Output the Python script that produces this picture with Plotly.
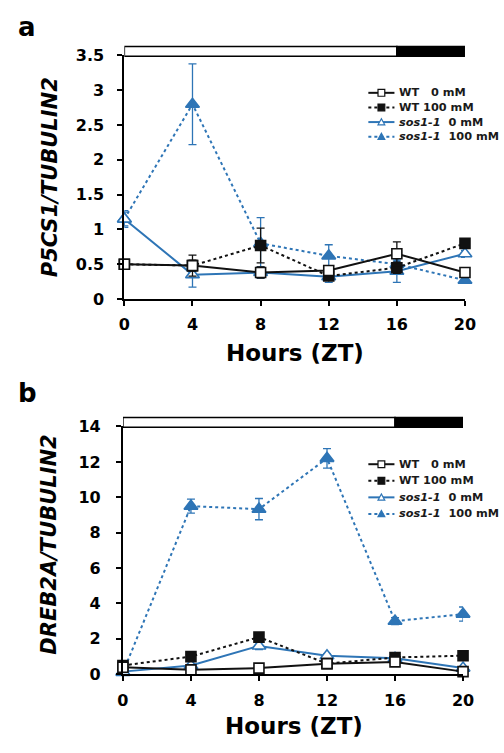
import plotly.graph_objects as go

# ---------------- data ----------------
hours = [0, 4, 8, 12, 16, 20]
x_ticks = [0, 4, 8, 12, 16, 20]

# panel a: P5CS1/TUBULIN2
a_wt0 = [0.50, 0.48, 0.38, 0.41, 0.65, 0.38]
a_wt0_err = [0.03, 0.15, 0.08, 0.06, 0.17, 0.04]
a_wt100 = [0.50, 0.48, 0.77, 0.33, 0.45, 0.80]
a_wt100_err = [0.03, 0.08, 0.25, 0.05, 0.08, 0.05]
a_sos0 = [1.15, 0.35, 0.38, 0.32, 0.40, 0.65]
a_sos0_err = [0.10, 0.18, 0.08, 0.08, 0.16, 0.05]
a_sos100 = [1.15, 2.80, 0.80, 0.62, 0.50, 0.27]
a_sos100_err = [0.12, 0.58, 0.37, 0.16, 0.08, 0.04]
a_yticks = [0, 0.5, 1, 1.5, 2, 2.5, 3, 3.5]

# panel b: DREB2A/TUBULIN2
b_wt0 = [0.40, 0.25, 0.35, 0.60, 0.70, 0.15]
b_wt0_err = [0.05, 0.05, 0.05, 0.10, 0.10, 0.05]
b_wt100 = [0.50, 1.00, 2.10, 0.60, 0.95, 1.05]
b_wt100_err = [0.10, 0.15, 0.20, 0.10, 0.15, 0.10]
b_sos0 = [0.15, 0.50, 1.60, 1.05, 0.90, 0.35]
b_sos0_err = [0.05, 0.10, 0.20, 0.10, 0.10, 0.05]
b_sos100 = [0.10, 9.50, 9.33, 12.20, 3.00, 3.40]
b_sos100_err = [0.10, 0.40, 0.60, 0.55, 0.20, 0.40]
b_yticks = [0, 2, 4, 6, 8, 10, 12, 14]

legend_labels = ["WT\u00a0\u00a0 0 mM", "WT 100 mM",
                 "<i>sos1-1</i>\u00a0 0 mM", "<i>sos1-1</i>\u00a0 100 mM"]
light_end = 16
dark_end = 20

BLUE = "#2E75B6"
BLACK = "#111111"
W, H = 504, 753
FONT = "DejaVu Sans"


def px(x):
    return x / W


def py(y):
    return 1 - y / H


fig = go.Figure()

styles = [
    dict(color=BLACK, dash="solid", symbol="square", fill="white", size=10),
    dict(color=BLACK, dash="dot", symbol="square", fill=BLACK, size=10),
    dict(color=BLUE, dash="solid", symbol="triangle-up", fill="white", size=12),
    dict(color=BLUE, dash="dot", symbol="triangle-up", fill=BLUE, size=12),
]


def add_series(ys, errs, st, xa, ya):
    fig.add_trace(go.Scatter(
        x=hours, y=ys, xaxis=xa, yaxis=ya, mode="lines+markers",
        line=dict(color=st["color"], width=2, dash=st["dash"]),
        marker=dict(symbol=st["symbol"], size=st["size"], color=st["fill"],
                    line=dict(color=st["color"], width=1.6)),
        error_y=dict(type="data", array=errs, visible=True, color=st["color"],
                     thickness=1.3, width=4),
        cliponaxis=False, showlegend=False))


a_series = [(a_sos100, a_sos100_err, styles[3]), (a_sos0, a_sos0_err, styles[2]),
            (a_wt100, a_wt100_err, styles[1]), (a_wt0, a_wt0_err, styles[0])]
b_series = [(b_sos100, b_sos100_err, styles[3]), (b_sos0, b_sos0_err, styles[2]),
            (b_wt100, b_wt100_err, styles[1]), (b_wt0, b_wt0_err, styles[0])]
for ys, es, st in a_series:
    add_series(ys, es, st, "x", "y")
for ys, es, st in b_series:
    add_series(ys, es, st, "x2", "y2")

axis_common = dict(showline=True, linecolor="black", linewidth=2, ticks="outside",
                   ticklen=5, tickwidth=2, tickcolor="black", showgrid=False,
                   zeroline=False, tickfont=dict(family=FONT, size=16, color="black",
                                                 weight="bold"))

A_X = (122.5, 475)
A_Y = (297.5, 47.7)
B_X = (121, 473)
B_Y = (682.5, 428.3)

fig.update_layout(
    width=W, height=H, margin=dict(l=0, r=0, t=0, b=0),
    paper_bgcolor="white", plot_bgcolor="white",
    font=dict(family=FONT, color="black"),
    xaxis=dict(domain=[px(A_X[0]), px(A_X[1])], range=[0, 20], tickvals=x_ticks,
               anchor="y", ticklabelstandoff=5, **axis_common),
    yaxis=dict(domain=[py(A_Y[0]), py(A_Y[1])], range=[0, 3.5], tickvals=a_yticks,
               anchor="x", ticklabelstandoff=10, **axis_common),
    xaxis2=dict(domain=[px(B_X[0]), px(B_X[1])], range=[0, 20], tickvals=x_ticks,
                anchor="y2", ticklabelstandoff=6, **axis_common),
    yaxis2=dict(domain=[py(B_Y[0]), py(B_Y[1])], range=[0, 14], tickvals=b_yticks,
                anchor="x2", ticklabelstandoff=12, **axis_common),
)

shapes = []
annotations = []


def note(text, x, y, size, angle=0, xanchor="center", color="black"):
    annotations.append(dict(text=text, x=px(x), y=py(y), xref="paper", yref="paper",
                            xanchor=xanchor, yanchor="middle", textangle=angle,
                            showarrow=False, font=dict(family=FONT, size=size, color=color)))


# light/dark bars above each panel
for xr, top, bottom in [("x", 38.5, 48.5), ("x2", 419, 429)]:
    shapes.append(dict(type="rect", xref=xr, yref="paper", x0=0, x1=light_end,
                       y0=py(bottom), y1=py(top), fillcolor="white",
                       line=dict(color="black", width=1.5)))
    shapes.append(dict(type="rect", xref=xr, yref="paper", x0=light_end, x1=dark_end,
                       y0=py(bottom), y1=py(top), fillcolor="black",
                       line=dict(color="black", width=1.5)))

# panel letters
note("<b>a</b>", 22, 18, 26)
note("<b>b</b>", 22, 394, 26)

# axis titles
note("<b><i>P5CS1/TUBULIN2</i></b>", 45, 172, 21, angle=-90)
note("<b><i>DREB2A/TUBULIN2</i></b>", 45, 549, 21, angle=-90)
note("<b>Hours (ZT)</b>", 299, 353, 23)
note("<b>Hours (ZT)</b>", 298, 736, 23)


# manual legends
def legend(x0, x1, xt, rows, fs, msize):
    for st, lab, yr in zip(styles, legend_labels, rows):
        dash = "solid" if st["dash"] == "solid" else "dot"
        shapes.append(dict(type="line", xref="paper", yref="paper", x0=px(x0), x1=px(x1),
                           y0=py(yr), y1=py(yr),
                           line=dict(color=st["color"], width=2, dash=dash)))
        xc = (x0 + x1) / 2
        s = msize / 2
        if st["symbol"] == "square":
            shapes.append(dict(type="rect", xref="paper", yref="paper",
                               x0=px(xc - s), x1=px(xc + s), y0=py(yr + s), y1=py(yr - s),
                               fillcolor=st["fill"], line=dict(color=st["color"], width=1.2)))
        else:
            path = "M {} {} L {} {} L {} {} Z".format(
                px(xc - s), py(yr + s * 0.8), px(xc + s), py(yr + s * 0.8),
                px(xc), py(yr - s))
            shapes.append(dict(type="path", xref="paper", yref="paper", path=path,
                               fillcolor=st["fill"], line=dict(color=st["color"], width=1.2)))
        note("<b>" + lab + "</b>", xt, yr, fs, xanchor="left", color="#1a1a1a")


legend(375, 402, 405, [86, 101, 116, 131], 11.3, 7)
legend(375, 402, 405, [467, 484, 501, 518], 11.3, 7)

fig.update_layout(shapes=shapes, annotations=annotations)
fig.write_html("out.html")
